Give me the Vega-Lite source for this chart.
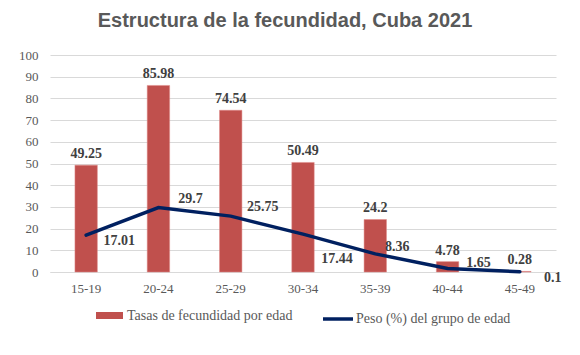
{
  "$schema": "https://vega.github.io/schema/vega-lite/v6.json",
  "autosize": "none",
  "width": 506,
  "height": 217,
  "padding": {"left": 50, "top": 55, "right": 24, "bottom": 83},
  "background": "white",
  "title": {
    "text": "Estructura de la fecundidad, Cuba 2021",
    "font": "Liberation Sans",
    "fontSize": 20,
    "fontWeight": "bold",
    "color": "#595959",
    "anchor": "middle",
    "dx": -18,
    "offset": 18
  },
  "data": {
    "values": [
      {"edad": "15-19", "tasa": 49.25, "peso": 17.01},
      {"edad": "20-24", "tasa": 85.98, "peso": 29.7},
      {"edad": "25-29", "tasa": 74.54, "peso": 25.75},
      {"edad": "30-34", "tasa": 50.49, "peso": 17.44},
      {"edad": "35-39", "tasa": 24.2, "peso": 8.36},
      {"edad": "40-44", "tasa": 4.78, "peso": 1.65},
      {"edad": "45-49", "tasa": 0.28, "peso": 0.1}
    ]
  },
  "encoding": {
    "x": {
      "field": "edad",
      "type": "nominal",
      "sort": null,
      "title": null,
      "scale": {"paddingInner": 0.69, "paddingOuter": 0.345},
      "axis": {
        "labelAngle": 0,
        "labelFont": "Liberation Serif",
        "labelFontSize": 13,
        "labelColor": "#595959",
        "labelPadding": 10,
        "ticks": false,
        "domainColor": "#D9D9D9",
        "domainWidth": 1
      }
    }
  },
  "layer": [
    {
      "mark": {"type": "bar", "stroke": "#E08A88", "strokeWidth": 0.5},
      "encoding": {
        "y": {
          "field": "tasa",
          "type": "quantitative",
          "title": null,
          "scale": {"domain": [0, 100]}
        },
        "fill": {
          "datum": "Tasas de fecundidad por edad",
          "scale": {"range": ["#C0504D"]},
          "legend": {
            "orient": "bottom",
            "title": null,
            "symbolType": "M-1,-0.26H1V0.26H-1Z",
            "symbolSize": 729,
            "symbolStrokeWidth": 0,
            "labelFont": "Liberation Serif",
            "labelFontSize": 14,
            "labelColor": "#595959",
            "labelOffset": 4,
            "labelLimit": 300,
            "offset": 7
          }
        }
      }
    },
    {
      "mark": {"type": "text", "font": "Liberation Serif", "fontSize": 14, "fontWeight": "bold", "color": "#404040", "baseline": "bottom", "dy": -4},
      "encoding": {
        "y": {"field": "tasa", "type": "quantitative", "title": null},
        "text": {"field": "tasa", "type": "quantitative"}
      }
    },
    {
      "mark": {"type": "line", "strokeWidth": 3.5, "strokeCap": "round"},
      "encoding": {
        "y": {"field": "peso", "type": "quantitative", "title": null},
        "stroke": {
          "datum": "Peso (%) del grupo de edad",
          "scale": {"range": ["#002060"]},
          "legend": {
            "orient": "bottom",
            "title": null,
            "symbolType": "stroke",
            "symbolSize": 900,
            "symbolStrokeWidth": 3.5,
            "labelFont": "Liberation Serif",
            "labelFontSize": 14,
            "labelColor": "#595959",
            "labelOffset": 1,
            "labelLimit": 300,
            "offset": 7
          }
        }
      }
    },
    {
      "transform": [{"filter": {"field": "edad", "oneOf": ["20-24", "25-29"]}}],
      "mark": {"type": "text", "font": "Liberation Serif", "fontSize": 14, "fontWeight": "bold", "color": "#404040", "baseline": "middle", "dx": 32, "dy": -9},
      "encoding": {
        "y": {"field": "peso", "type": "quantitative", "title": null},
        "text": {"field": "peso", "type": "quantitative"}
      }
    },
    {
      "transform": [{"filter": {"field": "edad", "oneOf": ["35-39"]}}],
      "mark": {"type": "text", "font": "Liberation Serif", "fontSize": 14, "fontWeight": "bold", "color": "#404040", "baseline": "middle", "dx": 22, "dy": -7},
      "encoding": {
        "y": {"field": "peso", "type": "quantitative", "title": null},
        "text": {"field": "peso", "type": "quantitative"}
      }
    },
    {
      "transform": [{"filter": {"field": "edad", "oneOf": ["40-44"]}}],
      "mark": {"type": "text", "font": "Liberation Serif", "fontSize": 14, "fontWeight": "bold", "color": "#404040", "baseline": "middle", "dx": 31, "dy": -5},
      "encoding": {
        "y": {"field": "peso", "type": "quantitative", "title": null},
        "text": {"field": "peso", "type": "quantitative"}
      }
    },
    {
      "transform": [{"filter": {"field": "edad", "oneOf": ["15-19", "45-49"]}}],
      "mark": {"type": "text", "font": "Liberation Serif", "fontSize": 14, "fontWeight": "bold", "color": "#404040", "baseline": "middle", "dx": 33, "dy": 6},
      "encoding": {
        "y": {"field": "peso", "type": "quantitative", "title": null},
        "text": {"field": "peso", "type": "quantitative"}
      }
    },
    {
      "transform": [{"filter": {"field": "edad", "oneOf": ["30-34"]}}],
      "mark": {"type": "text", "font": "Liberation Serif", "fontSize": 14, "fontWeight": "bold", "color": "#404040", "baseline": "middle", "dx": 34, "dy": 25},
      "encoding": {
        "y": {"field": "peso", "type": "quantitative", "title": null},
        "text": {"field": "peso", "type": "quantitative"}
      }
    }
  ],
  "resolve": {"scale": {"y": "shared"}},
  "config": {
    "view": {"stroke": null},
    "axisY": {
      "tickCount": 10,
      "labelOverlap": false,
      "labelFont": "Liberation Serif",
      "labelFontSize": 13,
      "labelColor": "#595959",
      "labelPadding": 12,
      "ticks": false,
      "domain": false,
      "gridColor": "#D9D9D9",
      "gridWidth": 1
    },
    "legend": {"layout": {"bottom": {"anchor": "middle", "direction": "horizontal", "margin": 28}}}
  }
}
